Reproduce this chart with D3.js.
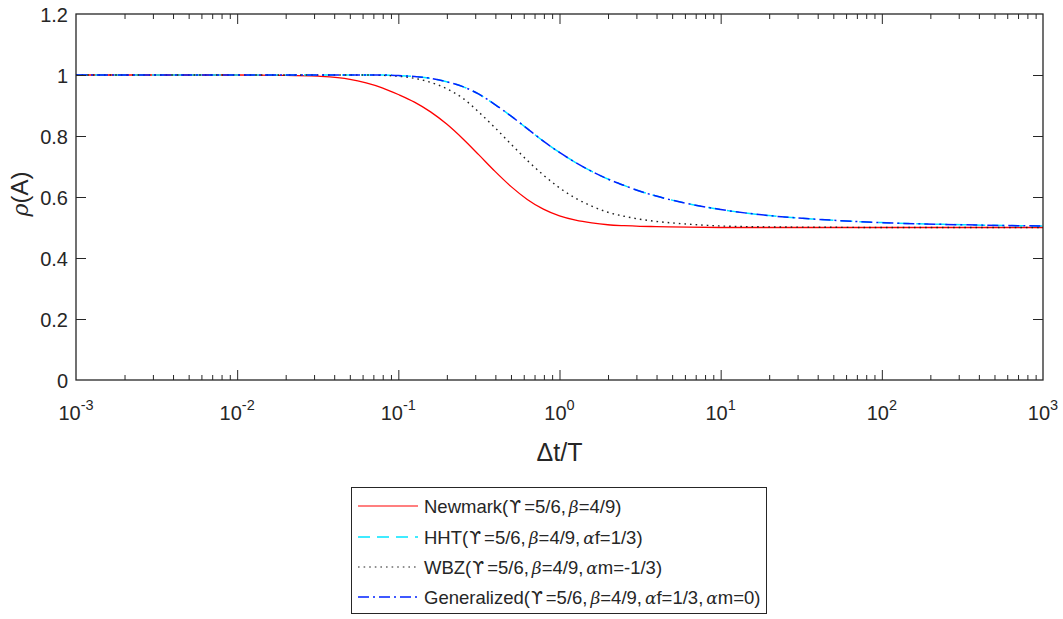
<!DOCTYPE html>
<html>
<head>
<meta charset="utf-8">
<script src="https://cdn.jsdelivr.net/npm/d3@7"></script>
<style>
  html, body { margin: 0; padding: 0; background: #fff; }
  svg { display: block; font-family: "Liberation Sans", Arial, sans-serif; }
</style>
</head>
<body>
<svg id="chart" width="1063" height="619"></svg>
<script>
// ---- Data ----
const dtOverT = [0.001, 0.01, 0.0200, 0.0316, 0.0501, 0.0631, 0.0794, 0.1, 0.1259, 0.1585, 0.1995, 0.2512, 0.3162, 0.3981, 0.5012, 0.631, 0.7943, 1, 1.259, 1.585, 1.995, 2.512, 3.162, 3.981, 6.31, 10, 19.95, 39.81, 100, 316.2, 1000];
const newmark     = [1.000, 1.000, 0.999, 0.996, 0.986, 0.974, 0.958, 0.936, 0.911, 0.879, 0.839, 0.791, 0.738, 0.684, 0.634, 0.592, 0.560, 0.538, 0.524, 0.515, 0.509, 0.506, 0.504, 0.503, 0.501, 0.500, 0.500, 0.500, 0.500, 0.500, 0.500];
const wbz         = [1.000, 1.000, 1.000, 1.000, 1.000, 1.000, 0.999, 0.996, 0.989, 0.976, 0.955, 0.924, 0.878, 0.827, 0.773, 0.720, 0.672, 0.630, 0.596, 0.570, 0.550, 0.537, 0.527, 0.520, 0.511, 0.505, 0.502, 0.501, 0.500, 0.500, 0.500];
const generalized = [1.000, 1.000, 1.000, 1.000, 1.000, 1.000, 1.000, 0.998, 0.995, 0.989, 0.978, 0.962, 0.937, 0.903, 0.865, 0.824, 0.783, 0.746, 0.713, 0.684, 0.659, 0.638, 0.619, 0.603, 0.578, 0.559, 0.539, 0.527, 0.516, 0.509, 0.505];
const hht         = generalized.slice(); // HHT coincides with the generalized-alpha curve

const yTicks = [0, 0.2, 0.4, 0.6, 0.8, 1, 1.2];
const xTickExponents = [-3, -2, -1, 0, 1, 2, 3];
// [text, kind]: "n" normal, "g" Greek italic, "u" upsilon
const legendLabels = [
  [["Newmark(", "n"], ["ϒ", "u"], ["=5/6,", "n"], ["β", "g"], ["=4/9)", "n"]],
  [["HHT(", "n"], ["ϒ", "u"], ["=5/6,", "n"], ["β", "g"], ["=4/9,", "n"], ["α", "g"], ["f=1/3)", "n"]],
  [["WBZ(", "n"], ["ϒ", "u"], ["=5/6,", "n"], ["β", "g"], ["=4/9,", "n"], ["α", "g"], ["m=-1/3)", "n"]],
  [["Generalized(", "n"], ["ϒ", "u"], ["=5/6,", "n"], ["β", "g"], ["=4/9,", "n"], ["α", "g"], ["f=1/3,", "n"], ["α", "g"], ["m=0)", "n"]]
];

const seriesDefs = [
  { name: "Newmark", values: newmark, color: "#ff0000", dash: null, width: 1.3 },
  { name: "HHT", values: hht, color: "#00e5ff", dash: "12,7", width: 1.5 },
  { name: "WBZ", values: wbz, color: "#222222", dash: "1.6,4", width: 1.4 },
  { name: "Generalized", values: generalized, color: "#0022ff", dash: "11,4,2,4", width: 1.5 }
];

// ---- Layout ----
const svg = d3.select("#chart");
const M = { left: 76, right: 1043, top: 14, bottom: 380 };
const axisColor = "#262626";

const x = d3.scaleLog().domain([1e-3, 1e3]).range([M.left, M.right]);
const y = d3.scaleLinear().domain([0, 1.2]).range([M.bottom, M.top]);

// Curves
svg.append("clipPath").attr("id", "clip").append("rect")
  .attr("x", M.left).attr("y", M.top).attr("width", M.right - M.left).attr("height", M.bottom - M.top);

const line = d3.line().x((d, i) => x(dtOverT[i])).y(d => y(d)).curve(d3.curveMonotoneX);
const plotG = svg.append("g").attr("clip-path", "url(#clip)");
seriesDefs.forEach(s => {
  plotG.append("path")
    .attr("d", line(s.values))
    .attr("fill", "none")
    .attr("stroke", s.color)
    .attr("stroke-width", s.width)
    .attr("stroke-dasharray", s.dash);
});

// Axes: ticks inward on all four sides
const tickLen = 10, minorLen = 5;
const yAxisL = d3.axisLeft(y).tickValues(yTicks).tickSize(-tickLen).tickFormat(d3.format("~g"));
const yAxisR = d3.axisRight(y).tickValues(yTicks).tickSize(-tickLen).tickFormat("");
const majorX = xTickExponents.map(e => Math.pow(10, e));
const minorX = [];
for (let e = -3; e < 3; e++) for (let k = 2; k <= 9; k++) minorX.push(k * Math.pow(10, e));

const gL = svg.append("g").attr("transform", `translate(${M.left},0)`).call(yAxisL);
const gR = svg.append("g").attr("transform", `translate(${M.right},0)`).call(yAxisR);
const gB = svg.append("g").attr("transform", `translate(0,${M.bottom})`)
  .call(d3.axisBottom(x).tickValues(majorX).tickSize(-tickLen).tickFormat(""));
const gBm = svg.append("g").attr("transform", `translate(0,${M.bottom})`)
  .call(d3.axisBottom(x).tickValues(minorX).tickSize(-minorLen).tickFormat(""));
const gT = svg.append("g").attr("transform", `translate(0,${M.top})`)
  .call(d3.axisTop(x).tickValues(majorX).tickSize(-tickLen).tickFormat(""));
const gTm = svg.append("g").attr("transform", `translate(0,${M.top})`)
  .call(d3.axisTop(x).tickValues(minorX).tickSize(-minorLen).tickFormat(""));

[gL, gR, gB, gBm, gT, gTm].forEach(g => {
  g.selectAll(".domain").remove();
  g.selectAll("line").attr("stroke", axisColor).attr("stroke-width", 1);
});
gL.selectAll("text").attr("fill", axisColor).attr("font-size", 20)
  .attr("font-family", "Liberation Sans, Arial, sans-serif").attr("x", -8).attr("dy", "0.36em");
gB.selectAll(".tick line").filter(d => d === 1e-3 || d === 1e3).remove();
gT.selectAll(".tick line").filter(d => d === 1e-3 || d === 1e3).remove();
gL.selectAll(".tick line").filter(d => d === 0 || d === 1.2).remove();
gR.selectAll(".tick line").filter(d => d === 0 || d === 1.2).remove();

svg.append("rect")
  .attr("x", M.left).attr("y", M.top)
  .attr("width", M.right - M.left).attr("height", M.bottom - M.top)
  .attr("fill", "none").attr("stroke", axisColor).attr("stroke-width", 1.3);

// X tick labels 10^n
const xLab = svg.append("g");
xTickExponents.forEach(e => {
  const t = xLab.append("text")
    .attr("x", x(Math.pow(10, e)))
    .attr("y", 420)
    .attr("text-anchor", "middle")
    .attr("fill", axisColor)
    .attr("font-size", 20);
  t.append("tspan").text("10");
  t.append("tspan").attr("dy", -10).attr("font-size", 14.5).text(String(e));
});

// Axis titles
svg.append("text")
  .attr("x", (M.left + M.right) / 2).attr("y", 461)
  .attr("text-anchor", "middle").attr("fill", axisColor).attr("font-size", 25)
  .text("Δt/T");

const yt = svg.append("text")
  .attr("transform", `translate(28,194) rotate(-90)`)
  .attr("text-anchor", "middle").attr("fill", axisColor).attr("font-size", 24);
yt.append("tspan").attr("font-style", "italic").attr("font-family", "DejaVu Serif, serif").attr("font-size", 22).text("ρ");
yt.append("tspan").text("(A)");

// Legend
const leg = svg.append("g");
leg.append("rect")
  .attr("x", 351.5).attr("y", 487.5).attr("width", 415).attr("height", 126)
  .attr("fill", "#fff").attr("stroke", axisColor).attr("stroke-width", 1);
const rowY = [506, 537, 567, 597];
seriesDefs.forEach((s, i) => {
  leg.append("line")
    .attr("x1", 358).attr("x2", 418).attr("y1", rowY[i]).attr("y2", rowY[i])
    .attr("stroke", s.color).attr("stroke-width", s.width - 0.2)
    .attr("stroke-dasharray", s.dash);
  const t = leg.append("text")
    .attr("x", 424).attr("y", rowY[i]).attr("dy", "0.36em")
    .attr("fill", axisColor).attr("font-size", 18.5);
  let prevKind = "n";
  legendLabels[i].forEach(([txt, kind]) => {
    const sp = t.append("tspan").text(txt);
    if (kind === "g") sp.attr("font-style", "italic").attr("font-family", "DejaVu Serif, serif").attr("font-size", 17).attr("dx", 3);
    if (kind === "u") sp.attr("font-family", "DejaVu Sans, sans-serif").attr("font-size", 17).attr("dx", 1);
    if (kind === "n" && prevKind === "u") sp.attr("dx", 3);
    if (kind === "n" && prevKind === "g") sp.attr("dx", 0);
    prevKind = kind;
  });
});
</script>
</body>
</html>
